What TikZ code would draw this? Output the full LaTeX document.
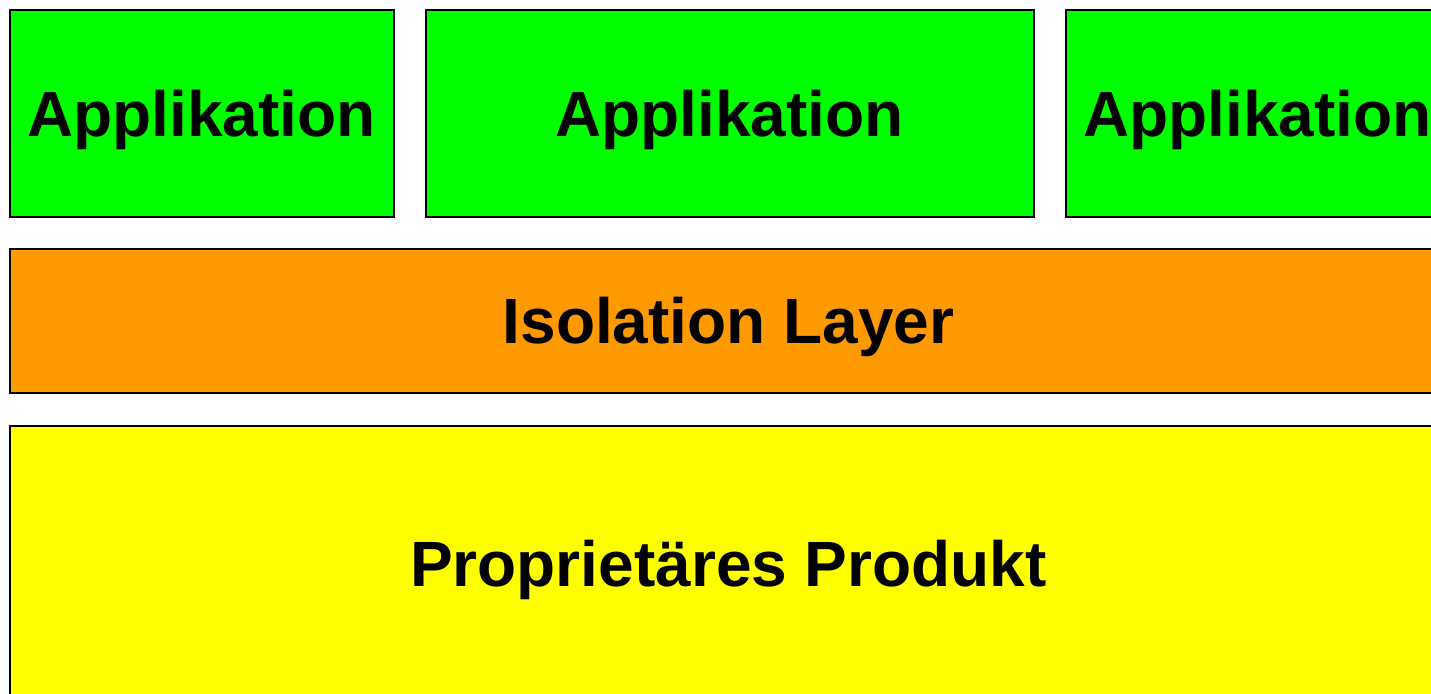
\documentclass[tikz,border=0pt]{standalone}
\usepackage{fontspec}
\setmainfont{Liberation Sans}
\definecolor{appgreen}{HTML}{00FF00}
\definecolor{isoorange}{HTML}{FF9900}
\definecolor{prodyellow}{HTML}{FFFF00}
\tikzset{
  layerbox/.style={draw=black, line width=1pt, inner sep=0pt, anchor=north west,
    text depth=0pt, font=\fontsize{32}{38}\selectfont\bfseries, text=black}
}
\begin{document}
\begin{tikzpicture}[x=0.5pt,y=-0.5pt]
\useasboundingbox (0,0) rectangle (1431,693);
\clip (0,0) rectangle (1431,693);
\node[layerbox, fill=appgreen, minimum width=192pt, minimum height=103.5pt, text depth=-1pt] (app1) at (8.5,8.5) {Applikation};
\node[layerbox, fill=appgreen, minimum width=304pt, minimum height=103.5pt, text depth=-1pt] (app2) at (424.5,8.5) {Applikation};
\node[layerbox, fill=appgreen, minimum width=192pt, minimum height=103.5pt, text depth=-1pt] (app3) at (1064.5,8.5) {Applikation};
\node[layerbox, fill=isoorange, minimum width=719pt, minimum height=72pt] (iso) at (8.5,247.5) {Isolation Layer};
\node[layerbox, fill=prodyellow, minimum width=719pt, minimum height=138pt] (prod) at (8.5,424.5) {Proprietäres Produkt};
\end{tikzpicture}
\end{document}
